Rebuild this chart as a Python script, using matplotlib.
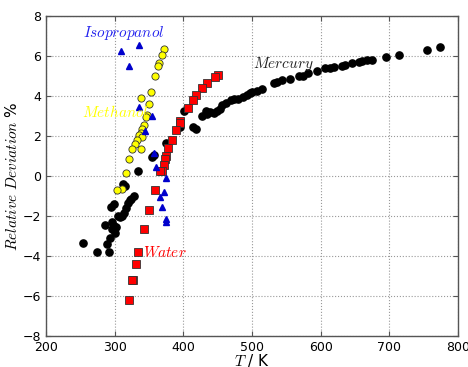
import matplotlib
matplotlib.use("Agg")
import matplotlib.pyplot as plt

plt.rcParams['mathtext.fontset'] = 'cm'

# Mercury (black circles)
hg_T = [253.9, 274.8, 291.7, 288.8, 293.7, 301.0, 285.9, 296.6, 298.5, 302.4, 296.6,
        294.2, 298.5, 304.4, 307.8, 311.2, 313.2, 316.9, 319.9, 322.3, 327.7, 314.6, 312.6,
        324.3, 334.4, 353.9, 357.0, 374.3, 394.7, 401.0, 414.5, 418.0, 427.6, 432.5, 434.0,
        438.4, 444.2, 449.0, 453.0, 456.3, 461.7, 469.0, 474.2, 480.0, 486.4, 492.3, 496.6,
        500.0, 506.8, 515.0, 532.0, 535.9, 543.2, 555.3, 568.9, 573.8, 582.0, 594.2,
        606.8, 613.6, 619.4, 631.0, 635.0, 645.2, 655.4, 659.8, 668.0, 674.7, 694.6,
        714.0, 754.8, 774.2]
hg_dev = [-3.35, -3.78, -3.82, -3.38, -3.08, -2.85, -2.47, -2.32, -2.52, -2.57, -2.67,
          -1.55, -1.38, -1.98, -2.05, -2.00, -1.87, -1.58, -1.33, -1.20, -0.98, -0.50, -0.40,
          -1.15, 0.27, 0.95, 1.05, 1.63, 2.47, 3.25, 2.47, 2.35, 3.02, 3.27, 3.10,
          3.18, 3.15, 3.25, 3.38, 3.55, 3.67, 3.80, 3.85, 3.88, 3.97, 4.05, 4.17,
          4.20, 4.28, 4.38, 4.65, 4.70, 4.80, 4.87, 5.03, 5.03, 5.17, 5.25,
          5.40, 5.43, 5.48, 5.53, 5.55, 5.65, 5.70, 5.75, 5.80, 5.82, 5.95,
          6.07, 6.33, 6.45]

# Water (red squares)
w_T = [450.5, 445.7, 434.9, 427.6, 418.9, 414.5, 406.3, 395.1, 395.1, 389.3, 383.0,
       377.7, 374.3, 373.3, 371.8, 369.4, 366.5, 358.2, 350.0, 342.3, 334.4, 330.6,
       326.7, 325.8, 320.9]
w_dev = [5.07, 4.98, 4.67, 4.42, 4.05, 3.83, 3.40, 2.77, 2.67, 2.32, 1.78,
         1.42, 1.00, 0.83, 0.57, 0.27, 0.23, -0.68, -1.70, -2.63, -3.82, -4.42,
         -5.18, -5.22, -6.18]

# Methanol (yellow circles)
m_T = [372.3, 368.5, 364.6, 362.7, 358.7, 352.9, 338.3, 349.5, 346.6, 345.6, 343.2,
       340.3, 338.3, 335.9, 339.4, 332.1, 329.2, 325.7, 338.3, 321.3, 316.9, 311.2, 302.9]
m_dev = [6.35, 6.05, 5.68, 5.50, 5.00, 4.20, 3.93, 3.62, 3.03, 2.93, 2.53,
         2.35, 2.15, 2.05, 1.97, 1.80, 1.60, 1.35, 1.37, 0.87, 0.13, -0.67, -0.68]

# Isopropanol (blue triangles)
i_T = [308.7, 335.0, 320.9, 335.4, 353.9, 344.2, 356.8, 360.7, 374.3, 372.3, 366.5,
       369.4, 374.3, 374.3]
i_dev = [6.27, 6.57, 5.52, 3.45, 3.02, 2.25, 1.13, 0.43, -0.12, -0.82, -1.07,
         -1.53, -2.17, -2.32]

fig = plt.figure(figsize=(4.68, 3.67), dpi=100)
ax = fig.add_axes([0.0983, 0.0845, 0.8803, 0.8715])

ax.plot(hg_T, hg_dev, 'o', color='black', mec='black', ms=5.2, zorder=3)
ax.plot(w_T, w_dev, 's', color='red', mec='#333333', mew=0.6, ms=5.2, zorder=3)
ax.plot(m_T, m_dev, 'o', color='yellow', mec='#333333', mew=0.6, ms=5.2, zorder=3)
ax.plot(i_T, i_dev, '^', color='#0000cc', mec='#0000cc', ms=4.8, zorder=3)

ax.text(254.4, 7.18, r'$\mathit{Isopropanol}$', color='#2222ee', fontsize=11, va='center')
ax.text(252, 3.18, r'$\mathit{Methanol}$', color='yellow', fontsize=11, va='center')
ax.text(502, 5.63, r'$\mathit{Mercury}$', color='#222222', fontsize=11, va='center')
ax.text(341.3, -3.8, r'$\mathit{Water}$', color='red', fontsize=11, va='center')

ax.set_xlim(200, 800)
ax.set_ylim(-8, 8)
ax.set_xticks([200, 300, 400, 500, 600, 700, 800])
ax.set_yticks([-8, -6, -4, -2, 0, 2, 4, 6, 8])
ax.grid(True, linestyle=':', color='#999999', linewidth=0.8)
ax.tick_params(direction='in', top=True, right=True, labelsize=9, color='#555555')
for s in ax.spines.values():
    s.set_color('#555555')
    s.set_linewidth(1.0)

ax.set_xlabel(r'$T$ / K', fontsize=11, labelpad=-1)
ax.set_ylabel(r'$\mathit{Relative\ Deviation}$ %', fontsize=11, labelpad=2)

fig.savefig('out.png', dpi=100)
